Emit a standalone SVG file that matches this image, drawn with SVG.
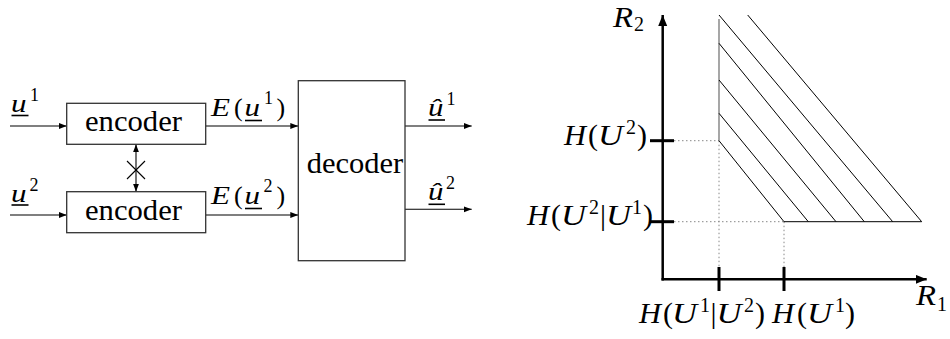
<svg xmlns="http://www.w3.org/2000/svg" width="950" height="339" viewBox="0 0 950 339">
<style>
text { font-family: "Liberation Serif", "Times New Roman", serif; fill: #000; }
.mi { font-style: italic; }
.m { font-size: 26px; }
.ms { font-size: 18px; }
.big { font-size: 30px; }
.bigs { font-size: 20px; }
.word { font-size: 30px; }
.box { fill: #fff; stroke: #333; stroke-width: 1.3; }
.ln { stroke: #000; stroke-width: 1.1; fill: none; }
.ul { stroke: #000; stroke-width: 1.6; }
.ax { stroke: #000; stroke-width: 2.5; fill: none; }
.tick { stroke: #000; stroke-width: 3; }
.dot { stroke: #888; stroke-width: 1; stroke-dasharray: 1.5 2.5; fill: none; }
.hatch { stroke: #000; stroke-width: 1; fill: none; }
.edge { stroke: #777; stroke-width: 1.3; }
</style>
<defs>
<marker id="arr" markerUnits="userSpaceOnUse" markerWidth="9" markerHeight="7" refX="8" refY="3" orient="auto-start-reverse">
<path d="M0,0 L8,3 L0,6 z" fill="#000"/>
</marker>
<marker id="axarr" markerUnits="userSpaceOnUse" markerWidth="12" markerHeight="10" refX="11" refY="4.5" orient="auto">
<path d="M0,0 L11,4.5 L0,9 z" fill="#000"/>
</marker>
</defs>

<g id="connectors">
<line class="ln" x1="10" y1="126" x2="66.7" y2="126" marker-end="url(#arr)"/>
<line class="ln" x1="10" y1="215" x2="66.7" y2="215" marker-end="url(#arr)"/>
<line class="ln" x1="205.7" y1="126" x2="298.3" y2="126" marker-end="url(#arr)"/>
<line class="ln" x1="205.7" y1="215" x2="298.3" y2="215" marker-end="url(#arr)"/>
<line class="ln" x1="405" y1="126" x2="471.7" y2="126" marker-end="url(#arr)"/>
<line class="ln" x1="405" y1="209.3" x2="471.7" y2="209.3" marker-end="url(#arr)"/>
<line class="ln" x1="136" y1="144.3" x2="136" y2="191.7" marker-start="url(#arr)" marker-end="url(#arr)"/>
<line class="ln" x1="127" y1="161" x2="145" y2="179"/>
<line class="ln" x1="127" y1="179" x2="145" y2="161"/>
</g>

<g id="enc1">
<rect class="box" x="66.7" y="103.3" width="139" height="41"/>
<text class="word" x="85" y="131" textLength="97" lengthAdjust="spacingAndGlyphs">encoder</text>
</g>
<g id="enc2">
<rect class="box" x="66.7" y="191.7" width="139" height="41"/>
<text class="word" x="85" y="219.5" textLength="97" lengthAdjust="spacingAndGlyphs">encoder</text>
</g>
<g id="dec">
<rect class="box" x="298.3" y="80.7" width="106.7" height="180"/>
<text class="word" x="306.7" y="173" textLength="96.5" lengthAdjust="spacingAndGlyphs">decoder</text>
</g>

<g id="label-u1">
<text class="mi m" x="11" y="112" textLength="15.5" lengthAdjust="spacingAndGlyphs">u</text>
<text class="ms" x="30" y="101">1</text>
<line class="ul" x1="11.5" y1="115.5" x2="28.5" y2="115.5"/>
</g>
<g id="label-u2">
<text class="mi m" x="11" y="201.5" textLength="15.5" lengthAdjust="spacingAndGlyphs">u</text>
<text class="ms" x="29.5" y="190.5">2</text>
<line class="ul" x1="11.5" y1="205" x2="28.5" y2="205"/>
</g>
<g id="label-E1">
<text class="mi m" x="211" y="116" textLength="19" lengthAdjust="spacingAndGlyphs">E</text>
<text class="m" x="234" y="116">(</text>
<text class="mi m" x="244.5" y="116" textLength="15.5" lengthAdjust="spacingAndGlyphs">u</text>
<line class="ul" x1="245" y1="120.5" x2="262" y2="120.5"/>
<text class="ms" x="264" y="104">1</text>
<text class="m" x="276.5" y="116">)</text>
</g>
<g id="label-E2">
<text class="mi m" x="211" y="204" textLength="19" lengthAdjust="spacingAndGlyphs">E</text>
<text class="m" x="234" y="204">(</text>
<text class="mi m" x="244.5" y="204" textLength="15.5" lengthAdjust="spacingAndGlyphs">u</text>
<line class="ul" x1="245" y1="208.5" x2="262" y2="208.5"/>
<text class="ms" x="263.5" y="192">2</text>
<text class="m" x="276.5" y="204">)</text>
</g>
<g id="label-uhat1">
<text class="mi m" x="428" y="116" textLength="15.5" lengthAdjust="spacingAndGlyphs">û</text>
<line class="ul" x1="428.5" y1="120" x2="445" y2="120"/>
<text class="ms" x="446.5" y="105">1</text>
</g>
<g id="label-uhat2">
<text class="mi m" x="428" y="200" textLength="15.5" lengthAdjust="spacingAndGlyphs">û</text>
<line class="ul" x1="428.5" y1="204.3" x2="445" y2="204.3"/>
<text class="ms" x="446" y="189">2</text>
</g>

<g id="rate-region">
<line class="dot" x1="674" y1="140.7" x2="719" y2="140.7"/>
<line class="dot" x1="674" y1="221.7" x2="784" y2="221.7"/>
<line class="dot" x1="719" y1="140.7" x2="719" y2="267"/>
<line class="dot" x1="784" y1="221.7" x2="784" y2="267"/>
<line class="edge" x1="719" y1="19" x2="719" y2="140.7"/>
<line class="hatch" x1="719" y1="140.7" x2="784" y2="221.7"/>
<line class="hatch" x1="784" y1="221.7" x2="921.7" y2="221.7"/>
<line class="hatch" x1="719" y1="113.3" x2="808.3" y2="221.7"/>
<line class="hatch" x1="719" y1="80" x2="836" y2="221.7"/>
<line class="hatch" x1="719" y1="43.3" x2="864.3" y2="221.7"/>
<line class="hatch" x1="719" y1="15" x2="892.7" y2="221.7"/>
<line class="hatch" x1="747.7" y1="15" x2="921.7" y2="221.7"/>
</g>

<g id="axes">
<line class="ax" x1="662.7" y1="280.5" x2="662.7" y2="15" marker-end="url(#axarr)"/>
<line class="ax" x1="661.5" y1="279.3" x2="926.7" y2="279.3" marker-end="url(#axarr)"/>
<line class="tick" x1="650" y1="140.7" x2="674" y2="140.7"/>
<line class="tick" x1="650" y1="221.7" x2="674" y2="221.7"/>
<line class="tick" x1="719" y1="267" x2="719" y2="291"/>
<line class="tick" x1="784" y1="267" x2="784" y2="291"/>
</g>

<g id="label-R2">
<text class="mi big" x="613" y="27" textLength="20" lengthAdjust="spacingAndGlyphs">R</text>
<text class="bigs" x="634" y="31">2</text>
</g>
<g id="label-R1">
<text class="mi big" x="916" y="305" textLength="20" lengthAdjust="spacingAndGlyphs">R</text>
<text class="bigs" x="937" y="311">1</text>
</g>
<g id="label-HU2">
<text class="mi big" x="564" y="145" textLength="22" lengthAdjust="spacingAndGlyphs">H</text>
<text class="big" x="588" y="145">(</text>
<text class="mi big" x="598" y="145" textLength="25" lengthAdjust="spacingAndGlyphs">U</text>
<text class="bigs" x="626" y="134">2</text>
<text class="big" x="637" y="145">)</text>
</g>
<g id="label-HU2U1">
<text class="mi big" x="527" y="225" textLength="22" lengthAdjust="spacingAndGlyphs">H</text>
<text class="big" x="551" y="225">(</text>
<text class="mi big" x="561" y="225" textLength="25" lengthAdjust="spacingAndGlyphs">U</text>
<text class="bigs" x="589" y="214">2</text>
<text class="big" x="600" y="225">|</text>
<text class="mi big" x="606" y="225" textLength="25" lengthAdjust="spacingAndGlyphs">U</text>
<text class="bigs" x="632" y="214">1</text>
<text class="big" x="643" y="225">)</text>
</g>
<g id="label-HU1U2">
<text class="mi big" x="639" y="323" textLength="22" lengthAdjust="spacingAndGlyphs">H</text>
<text class="big" x="663" y="323">(</text>
<text class="mi big" x="672" y="323" textLength="25" lengthAdjust="spacingAndGlyphs">U</text>
<text class="bigs" x="700" y="312">1</text>
<text class="big" x="710.5" y="323">|</text>
<text class="mi big" x="716.5" y="323" textLength="25" lengthAdjust="spacingAndGlyphs">U</text>
<text class="bigs" x="744" y="312">2</text>
<text class="big" x="755" y="323">)</text>
</g>
<g id="label-HU1">
<text class="mi big" x="772" y="323" textLength="22" lengthAdjust="spacingAndGlyphs">H</text>
<text class="big" x="797" y="323">(</text>
<text class="mi big" x="807" y="323" textLength="25" lengthAdjust="spacingAndGlyphs">U</text>
<text class="bigs" x="835" y="312">1</text>
<text class="big" x="845" y="323">)</text>
</g>
</svg>
